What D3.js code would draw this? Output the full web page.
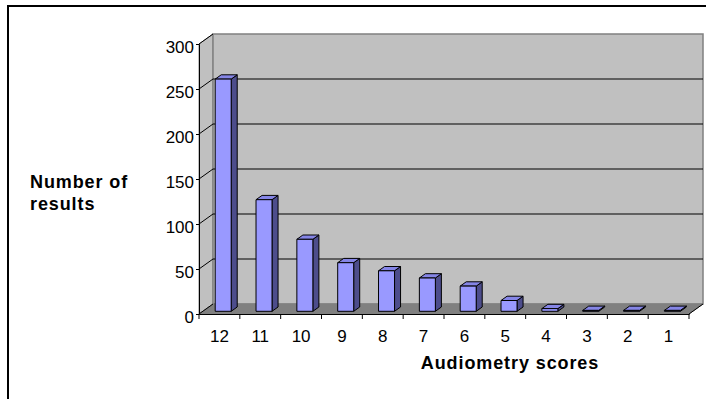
<!DOCTYPE html>
<html>
<head>
<meta charset="utf-8">
<script src="https://cdn.jsdelivr.net/npm/d3@7"></script>
<style>
  html, body { margin: 0; padding: 0; background: #fff; }
  svg { display: block; }
  text { font-family: "Liberation Sans", Arial, sans-serif; fill: #000; }
</style>
</head>
<body>
<svg id="chart" width="706" height="399"></svg>
<script>
// Audiometry score counts
const categories = ["12", "11", "10", "9", "8", "7", "6", "5", "4", "3", "2", "1"];
const counts = [258, 124, 80, 54, 45, 37, 28, 12, 3, 1, 1, 1];
const yTicks = [0, 50, 100, 150, 200, 250, 300];

const svg = d3.select("#chart");

// Outer frame
svg.append("rect")
  .attr("x", 8).attr("y", 6).attr("width", 720).attr("height", 420)
  .attr("fill", "#fff").attr("stroke", "#000").attr("stroke-width", 2);

// Front plane scales plus an oblique depth offset for the 3D look
const x = d3.scaleBand().domain(categories).range([199, 689]);
const y = d3.scaleLinear().domain([0, 300]).range([314, 44]);
const DX = 14, DY = -10;               // full depth of the plot box
const barFront = 0.27, barBack = 0.70; // bar position within depth
const barW = 16;

const pt = (px, py, t) => [px + DX * t, py + DY * t];
const poly = pts => pts.map(p => p.join(",")).join(" ");

const x0 = x.range()[0], x1 = x.range()[1];
const yTop = y(300), yBot = y(0);

// Left wall
svg.append("polygon")
  .attr("points", poly([[x0, yTop], pt(x0, yTop, 1), pt(x0, yBot, 1), [x0, yBot]]))
  .attr("fill", "#c0c0c0").attr("stroke", "#808080").attr("stroke-width", 1);

// Back wall
svg.append("polygon")
  .attr("points", poly([pt(x0, yTop, 1), pt(x1, yTop, 1), pt(x1, yBot, 1), pt(x0, yBot, 1)]))
  .attr("fill", "#c0c0c0").attr("stroke", "#808080").attr("stroke-width", 1.5);

// Floor
svg.append("polygon")
  .attr("points", poly([[x0, yBot], [x1, yBot], pt(x1, yBot, 1), pt(x0, yBot, 1)]))
  .attr("fill", "#808080").attr("stroke", "#808080").attr("stroke-width", 1);

// Gridlines on back wall and left wall
const grid = svg.append("g");
yTicks.filter(v => v > 0 && v < 300).forEach(v => {
  const [bx, by] = pt(x0, y(v), 1);
  grid.append("line")
    .attr("x1", bx).attr("y1", by).attr("x2", x1 + DX).attr("y2", by)
    .attr("stroke", "#000").attr("stroke-width", 1);
});
yTicks.forEach(v => {
  const [bx, by] = pt(x0, y(v), 1);
  grid.append("line")
    .attr("x1", x0).attr("y1", y(v)).attr("x2", bx).attr("y2", by)
    .attr("stroke", "#000").attr("stroke-width", 1);
});

// Y axis (front edge)
const yAxis = d3.axisLeft(y).tickValues(yTicks).tickSize(3).tickPadding(2);
const gy = svg.append("g").attr("transform", `translate(${x0},0)`).call(yAxis);
gy.select(".domain").attr("stroke", "#000");
gy.selectAll(".tick line").attr("stroke", "#000");
gy.selectAll(".tick text")
  .style("font-size", "17px").style("font-family", "'Liberation Sans', Arial, sans-serif")
  .attr("fill", "#000").attr("dy", "0.5em");

// X axis (front floor edge)
const xAxis = d3.axisBottom(x).tickSize(0).tickPadding(16);
const gx = svg.append("g").attr("transform", `translate(0,${yBot})`).call(xAxis);
gx.select(".domain").attr("stroke", "#000");
gx.selectAll(".tick text")
  .style("font-size", "17px").style("font-family", "'Liberation Sans', Arial, sans-serif")
  .attr("fill", "#000");
// Category separators
categories.forEach(c => {
  const xe = x(c) + x.bandwidth();
  svg.append("line").attr("x1", xe).attr("x2", xe).attr("y1", yBot).attr("y2", yBot + 5)
    .attr("stroke", "#000");
});
svg.append("line").attr("x1", x0).attr("x2", x0).attr("y1", yBot).attr("y2", yBot + 5).attr("stroke", "#000");
// Right floor edge
svg.append("line")
  .attr("x1", x1).attr("y1", yBot).attr("x2", x1 + DX).attr("y2", yBot + DY)
  .attr("stroke", "#000");

// Bars
const bars = svg.append("g");
categories.forEach((c, i) => {
  const v = counts[i];
  const cx = x(c) + x.bandwidth() / 2;
  const l = cx - barW / 2, r = cx + barW / 2;
  const yt = y(v), yb = y(0);
  const fTL = pt(l, yt, barFront), fTR = pt(r, yt, barFront);
  const fBR = pt(r, yb, barFront), fBL = pt(l, yb, barFront);
  const bTL = pt(l, yt, barBack), bTR = pt(r, yt, barBack), bBR = pt(r, yb, barBack);
  const g = bars.append("g").attr("stroke", "#000").attr("stroke-width", 1).attr("stroke-linejoin", "round");
  g.append("polygon").attr("points", poly([fTR, bTR, bBR, fBR])).attr("fill", "#4d4d8c");
  g.append("polygon").attr("points", poly([fTL, fTR, bTR, bTL])).attr("fill", "#8585e6");
  g.append("polygon").attr("points", poly([fTL, fTR, fBR, fBL])).attr("fill", "#9999ff");
});

// Axis titles
svg.append("text").attr("x", 510).attr("y", 369).attr("text-anchor", "middle")
  .style("font-size", "18px").style("font-weight", "bold").style("letter-spacing", "0.9px")
  .text("Audiometry scores");
const yt = svg.append("text").attr("x", 30).attr("y", 188)
  .style("font-size", "18px").style("font-weight", "bold").style("letter-spacing", "0.9px");
yt.append("tspan").attr("x", 30).attr("y", 188).text("Number of");
yt.append("tspan").attr("x", 30).attr("y", 210).text("results");
</script>
</body>
</html>
